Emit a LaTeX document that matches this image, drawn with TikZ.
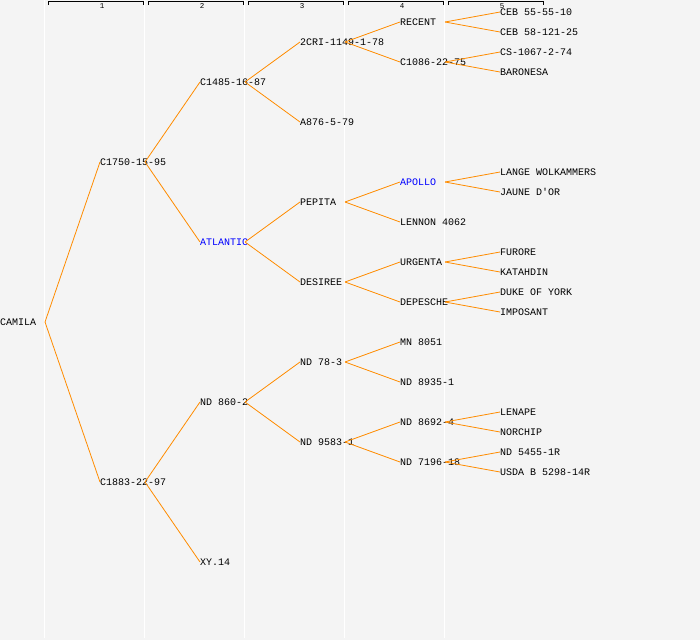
\documentclass[tikz,border=0pt]{standalone}
\usepackage{fontspec}
\setmonofont{Liberation Mono}
\definecolor{sfondo}{HTML}{F4F4F4}
\definecolor{arancio}{HTML}{FF8C00}

\begin{document}
\begin{tikzpicture}[x=1pt,y=-1pt,
		nome/.style={anchor=west, inner sep=0pt, text height=7pt, text depth=0pt,
			font=\ttfamily\fontsize{10}{10}\selectfont},
		varieta/.style={nome, text=blue},
		ramo/.style={draw=arancio, line width=0.8pt}]
			%%%	Sfondo e colonne
			\fill [sfondo] (0,0) rectangle (700,640);
			\useasboundingbox (0,0) rectangle (700,640);
			\foreach \i in {1,...,5} {
				\draw [white, line width=1.5pt] (\i*100-55.5,0) -- (\i*100-55.5,638);
				\draw [line width=0.8pt] (\i*100-52,5) -- (\i*100-52,1.5) -- (\i*100+43,1.5) -- (\i*100+43,5);
				\node [font=\ttfamily\fontsize{7.5}{7.5}\selectfont, inner sep=0pt] at (\i*100+2,6) {\i};
			}
			%%%	Generazione 0 - 2
			\node [nome] (camila) at (0,322) {CAMILA};
			\node [nome] (c1750) at (100,162) {C1750-15-95};
			\node [nome] (c1883) at (100,482) {C1883-22-97};
			\node [nome] (c1485) at (200,82) {C1485-16-87};
			\node [varieta] (atlantic) at (200,242) {ATLANTIC};
			\node [nome] (nd860) at (200,402) {ND 860-2};
			\node [nome] (xy14) at (200,562) {XY.14};
			%%%	Generazione 3
			\node [nome] (cri) at (300,42) {2CRI-1149-1-78};
			\node [nome] (a876) at (300,122) {A876-5-79};
			\node [nome] (pepita) at (300,202) {PEPITA};
			\node [nome] (desiree) at (300,282) {DESIREE};
			\node [nome] (nd783) at (300,362) {ND 78-3};
			\node [nome] (nd9583) at (300,442) {ND 9583-1};
			%%%	Generazione 4
			\node [nome] (recent) at (400,22) {RECENT};
			\node [nome] (c1086) at (400,62) {C1086-22-75};
			\node [varieta] (apollo) at (400,182) {APOLLO};
			\node [nome] (lennon) at (400,222) {LENNON 4062};
			\node [nome] (urgenta) at (400,262) {URGENTA};
			\node [nome] (depesche) at (400,302) {DEPESCHE};
			\node [nome] (mn8051) at (400,342) {MN 8051};
			\node [nome] (nd8935) at (400,382) {ND 8935-1};
			\node [nome] (nd8692) at (400,422) {ND 8692-4};
			\node [nome] (nd7196) at (400,462) {ND 7196-18};
			%%%	Generazione 5
			\node [nome] (ceb55) at (500,12) {CEB 55-55-10};
			\node [nome] (ceb58) at (500,32) {CEB 58-121-25};
			\node [nome] (cs1067) at (500,52) {CS-1067-2-74};
			\node [nome] (baronesa) at (500,72) {BARONESA};
			\node [nome] (lange) at (500,172) {LANGE WOLKAMMERS};
			\node [nome] (jaune) at (500,192) {JAUNE D'OR};
			\node [nome] (furore) at (500,252) {FURORE};
			\node [nome] (katahdin) at (500,272) {KATAHDIN};
			\node [nome] (duke) at (500,292) {DUKE OF YORK};
			\node [nome] (imposant) at (500,312) {IMPOSANT};
			\node [nome] (lenape) at (500,412) {LENAPE};
			\node [nome] (norchip) at (500,432) {NORCHIP};
			\node [nome] (nd5455) at (500,452) {ND 5455-1R};
			\node [nome] (usda) at (500,472) {USDA B 5298-14R};
			%%%	Rami
			\foreach \a/\b in {camila/c1750, camila/c1883,
					c1750/c1485, c1750/atlantic, c1883/nd860, c1883/xy14,
					c1485/cri, c1485/a876, atlantic/pepita, atlantic/desiree,
					nd860/nd783, nd860/nd9583,
					cri/recent, cri/c1086, pepita/apollo, pepita/lennon,
					desiree/urgenta, desiree/depesche, nd783/mn8051, nd783/nd8935,
					nd9583/nd8692, nd9583/nd7196,
					recent/ceb55, recent/ceb58, c1086/cs1067, c1086/baronesa,
					apollo/lange, apollo/jaune, urgenta/furore, urgenta/katahdin,
					depesche/duke, depesche/imposant, nd8692/lenape, nd8692/norchip,
					nd7196/nd5455, nd7196/usda}
				\draw [ramo] ([xshift=45pt]\a.west) -- (\b.west);
		\end{tikzpicture}
\end{document}
